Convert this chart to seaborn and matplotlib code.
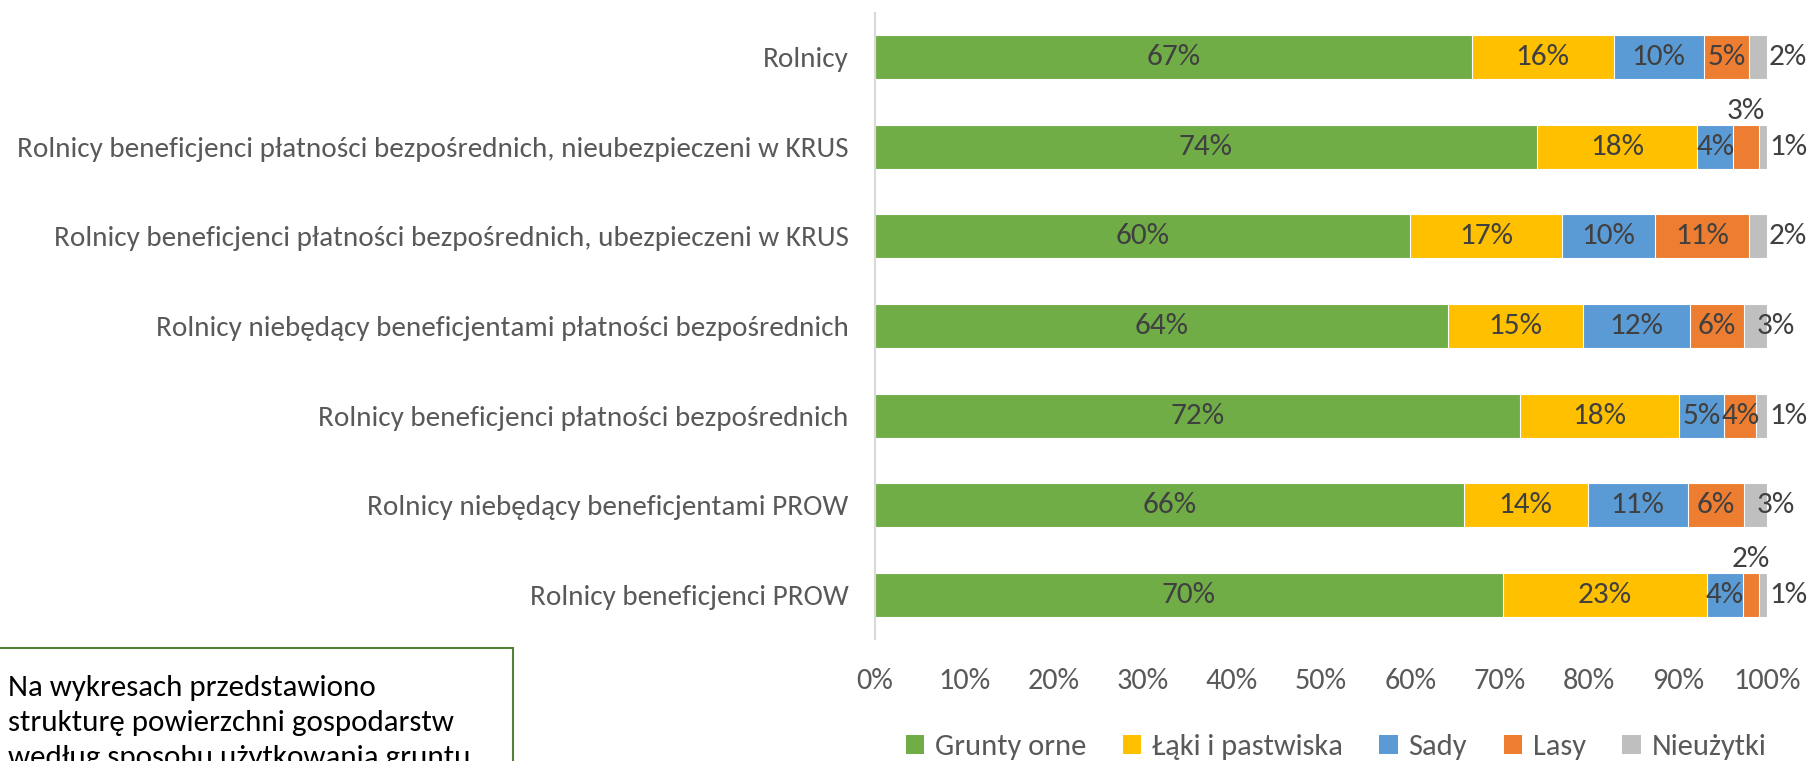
import numpy as np
import pandas as pd
import matplotlib
matplotlib.use("Agg")
import matplotlib.pyplot as plt
import seaborn as sns
from matplotlib import font_manager
from matplotlib.patches import Rectangle, Patch

# ---------------- data ----------------
categories = [
    "Rolnicy",
    "Rolnicy beneficjenci płatności bezpośrednich, nieubezpieczeni w KRUS",
    "Rolnicy beneficjenci płatności bezpośrednich, ubezpieczeni w KRUS",
    "Rolnicy niebędący beneficjentami płatności bezpośrednich",
    "Rolnicy beneficjenci płatności bezpośrednich",
    "Rolnicy niebędący beneficjentami PROW",
    "Rolnicy beneficjenci PROW",
]
grunty_orne = [66.9, 74.2, 60.0, 64.2, 72.3, 66.0, 70.4]
laki = [15.9, 18.0, 17.0, 15.2, 17.8, 13.9, 22.9]
sady = [10.1, 4.0, 10.4, 12.0, 5.1, 11.2, 4.0]
lasy = [5.1, 2.9, 10.6, 6.0, 3.6, 6.3, 1.8]
nieuzytki = [2.0, 0.9, 2.0, 2.6, 1.2, 2.6, 0.9]
series_names = ["Grunty orne", "Łąki i pastwiska", "Sady", "Lasy", "Nieużytki"]
tick_values = [0, 10, 20, 30, 40, 50, 60, 70, 80, 90, 100]
tick_labels = [f"{v}%" for v in tick_values]
note_lines = ["Na wykresach przedstawiono",
              "strukturę powierzchni gospodarstw",
              "według sposobu użytkowania gruntu"]

colors = ["#70AD47", "#FFC000", "#5B9BD5", "#ED7D31", "#BFBFBF"]

# ---------------- fonts ----------------
def pick_font(cands):
    for c in cands:
        try:
            font_manager.findfont(font_manager.FontProperties(family=c), fallback_to_default=False)
            return c
        except Exception:
            continue
    return "DejaVu Sans"

sns.set_theme(style="white")
fam = pick_font(["Carlito", "Liberation Sans Narrow", "Open Sans"])
plt.rcParams["font.family"] = [fam, "DejaVu Sans"]
FS_Y = 21.0
FS_TICK = 21.8
FS_DATA = 22.5
FS_LEG = 22.0
FS_NOTE = 22.3

# ---------------- figure ----------------
W, H = 1812, 761
fig = plt.figure(figsize=(W / 100, H / 100), dpi=100)
ax = fig.add_axes([875 / W, 1 - 639 / H, (1767 - 875) / W, (639 - 13) / H])

data = pd.DataFrame({"cat": categories})
vals = [grunty_orne, laki, sady, lasy, nieuzytki]
cum = np.cumsum(np.array(vals), axis=0)

# draw longest cumulative first so shorter ones overlay
for i in range(len(vals) - 1, -1, -1):
    data["v"] = cum[i]
    sns.barplot(data=data, x="v", y="cat", orient="h", color=colors[i],
                width=0.49, saturation=1, edgecolor="white", linewidth=0.8, ax=ax)

ax.set_xlim(0, 100)
ax.set_ylim(6.49, -0.49)
ax.set_xlabel("")
ax.set_ylabel("")
ax.set_xticks(tick_values)
ax.set_xticklabels(tick_labels)
ax.tick_params(axis="x", length=0, pad=21, labelsize=FS_TICK, labelcolor="#595959")
ax.tick_params(axis="y", length=0, pad=19, labelsize=FS_Y, labelcolor="#595959")
for s in ["top", "right", "bottom"]:
    ax.spines[s].set_visible(False)
ax.spines["left"].set_color("#D9D9D9")
ax.spines["left"].set_linewidth(1.5)
ax.grid(False)

# ---------------- data labels ----------------
lab_color = "#404040"
for r in range(len(categories)):
    starts = [0.0] + list(cum[:-1, r])
    for i in range(len(vals)):
        v = vals[i][r]
        txt = f"{int(v + 0.5):d}%"
        cx = starts[i] + v / 2
        if i == 4:
            off = 1.0 if v >= 2.5 else 2.35
            ax.text(100 + off, r, txt, ha="center", va="center", fontsize=FS_DATA, color=lab_color)
        elif i == 3 and v < 3.5:
            ax.text(cx, r - 0.4, txt, ha="center", va="center", fontsize=FS_DATA, color=lab_color)
        else:
            ax.text(cx, r, txt, ha="center", va="center", fontsize=FS_DATA, color=lab_color)

# ---------------- legend ----------------
handles = [Patch(facecolor=c, edgecolor="none") for c in colors]
fig.legend(handles, series_names, loc="center", bbox_to_anchor=(1336 / W, 1 - 747 / H),
           ncol=5, frameon=False, fontsize=FS_LEG, labelcolor="#595959",
           handlelength=0.6, handleheight=0.6, handletextpad=0.35, columnspacing=1.2)

# ---------------- note box ----------------
fig.patches.append(Rectangle((-5 / W, -40 / H), (513 + 5) / W, (761 + 40 - 648) / H,
                             transform=fig.transFigure, facecolor="white",
                             edgecolor="#548235", linewidth=1.5, zorder=0))
for k, line in enumerate(note_lines):
    fig.text(8 / W, 1 - (696 + 35 * k) / H, line, ha="left", va="baseline",
             fontsize=FS_NOTE, color="black")

fig.savefig("out.png", dpi=100)
